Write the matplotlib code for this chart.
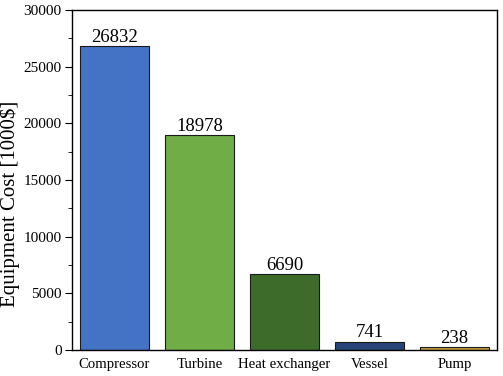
import matplotlib.pyplot as plt
from matplotlib.ticker import MultipleLocator

categories = ['Compressor', 'Turbine', 'Heat exchanger', 'Vessel', 'Pump']
costs = [26832, 18978, 6690, 741, 238]
colors = ['#4472C4', '#70AD47', '#3D6B2A', '#264478', '#BF9A3F']

plt.rcParams['font.family'] = ['Liberation Serif', 'DejaVu Serif']

fig = plt.figure(figsize=(5.03, 3.76), dpi=100)
ax = fig.add_axes([0.143, 0.069, 0.845, 0.904])

x = range(len(categories))
bars = ax.bar(x, costs, width=0.81, color=colors, edgecolor='#1a1a1a', linewidth=0.8)

# value labels on top of bars
for b, v in zip(bars, costs):
    ax.text(b.get_x() + b.get_width() / 2, v + 20, str(v),
            ha='center', va='bottom', fontsize=13.5)

ax.set_xlim(-0.5, 4.5)
ax.set_ylim(0, 30000)
ax.set_xticks(list(x))
ax.set_xticklabels(categories, fontsize=10.6)
ax.tick_params(axis='x', length=0, pad=6)
ax.yaxis.set_major_locator(MultipleLocator(5000))
ax.yaxis.set_minor_locator(MultipleLocator(2500))
ax.tick_params(axis='y', which='major', length=5, labelsize=11, pad=2.5, direction='out')
ax.tick_params(axis='y', which='minor', length=3, direction='out')
ax.set_ylabel('Equipment Cost [1000$]', fontsize=15)
ax.yaxis.set_label_coords(-0.122, 0.43)

for s in ax.spines.values():
    s.set_linewidth(1.0)

fig.savefig('out.png', dpi=100)
